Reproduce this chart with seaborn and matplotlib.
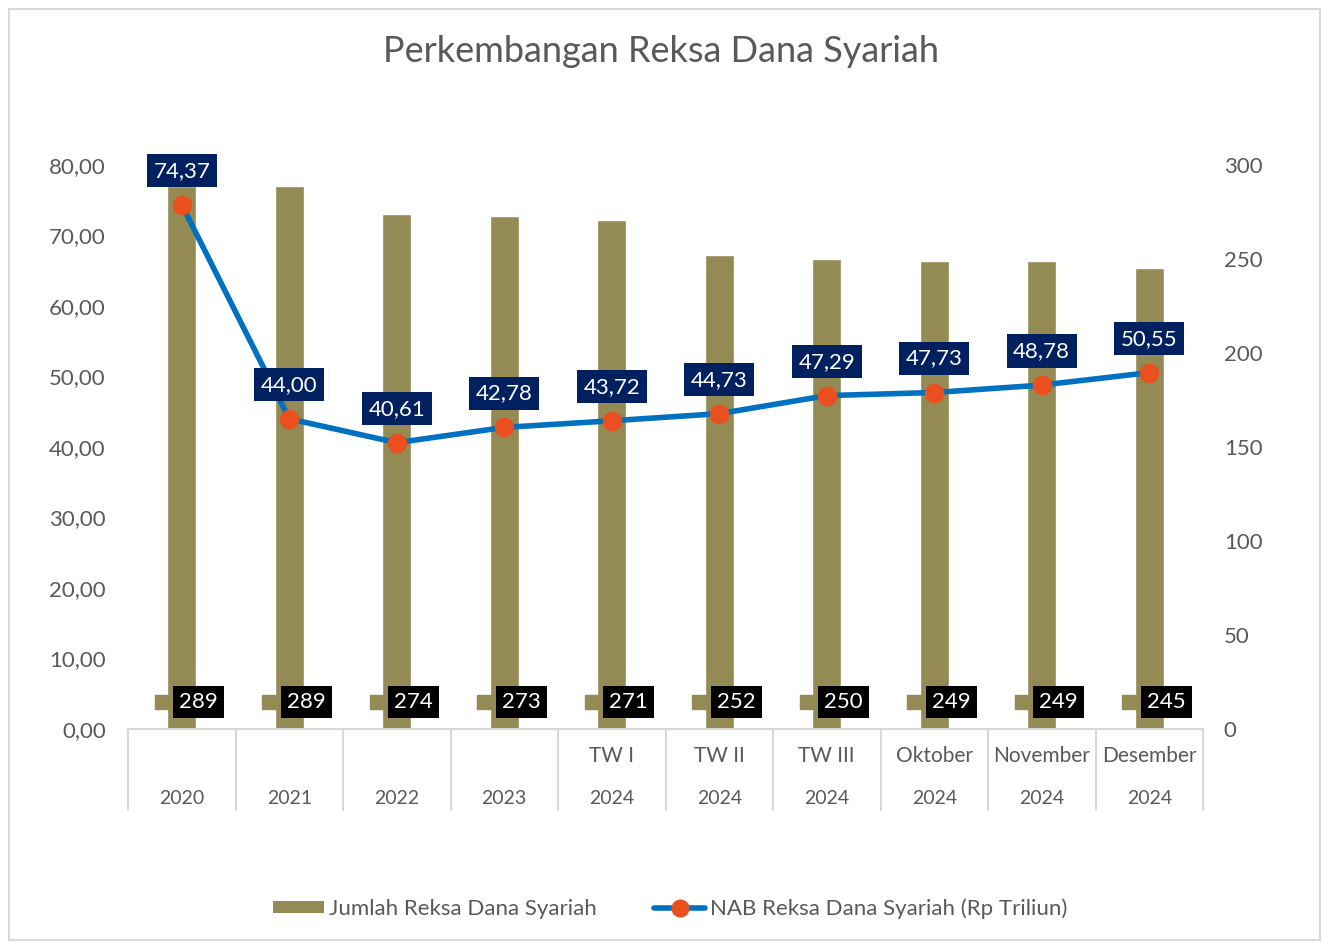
import numpy as np
import pandas as pd
import matplotlib
matplotlib.use("Agg")
import matplotlib.pyplot as plt
import matplotlib.transforms as mtransforms
from matplotlib.patches import Patch, Rectangle
from matplotlib.lines import Line2D
import seaborn as sns

periode = ["", "", "", "", "TW I", "TW II", "TW III", "Oktober", "November", "Desember"]
tahun = ["2020", "2021", "2022", "2023", "2024", "2024", "2024", "2024", "2024", "2024"]
jumlah = [289, 289, 274, 273, 271, 252, 250, 249, 249, 245]
nab = [74.37, 44.00, 40.61, 42.78, 43.72, 44.73, 47.29, 47.73, 48.78, 50.55]

olive = "#948A54"
navy = "#002060"
biru = "#0070C0"
oranye = "#E94F1F"
abu = "#595959"
garis = "#D9D9D9"

df = pd.DataFrame({"kat": [f"{p}|{t}" for p, t in zip(periode, tahun)],
                   "pos": np.arange(len(tahun)),
                   "jumlah": jumlah, "nab": nab})

sns.set_style("white")
plt.rcParams["font.family"] = ["Lato", "DejaVu Sans"]

fig = plt.figure(figsize=(13.22, 9.43), dpi=100)
ax = fig.add_axes([128 / 1322, 1 - 729 / 943, (1203 - 128) / 1322, (729 - 165) / 943])

# bars on the right-hand scale
sns.barplot(data=df, x="kat", y="jumlah", color=olive, width=0.27,
            saturation=1, ax=ax, zorder=2)
ax.set_ylim(0, 300)
ax.set_xlim(-0.5, len(tahun) - 0.5)
ax.set_xticks([])
ax.set_xlabel("")
ax.set_ylabel("")
for s in ax.spines.values():
    s.set_visible(False)

# two-level category axis
trans = mtransforms.blended_transform_factory(ax.transData, ax.transAxes)
ax.plot([-0.5, len(tahun) - 0.5], [0, 0], color=garis, lw=1.5,
        transform=trans, clip_on=False, zorder=3)
for i in range(len(tahun) + 1):
    ax.plot([i - 0.5, i - 0.5], [0, -81 / 564], color=garis, lw=1.5,
            transform=trans, clip_on=False)
for i, (p, t) in enumerate(zip(periode, tahun)):
    ax.text(i, -27 / 564, p, transform=trans, ha="center", va="center",
            fontsize=15, color=abu)
    ax.text(i, -69 / 564, t, transform=trans, ha="center", va="center",
            fontsize=14, color=abu)

# bar labels with small legend key
for i, v in enumerate(jumlah):
    kt = mtransforms.offset_copy(ax.transData, fig, x=-20, y=27, units="dots")
    ax.plot([i], [0], marker="s", ms=10, color=olive, mec=olive,
            transform=kt, zorder=4, clip_on=False)
    ax.annotate(str(v), xy=(i, 0), xytext=(17, 27), textcoords="offset pixels",
                ha="center", va="center", fontsize=16, color="white", zorder=5,
                bbox=dict(boxstyle="square,pad=0.28", fc="black", ec="none"))

# line on the left-hand scale
ax2 = ax.twinx()
sns.lineplot(data=df, x="pos", y="nab", color=biru, lw=4, ax=ax2, zorder=3)
sns.scatterplot(data=df, x="pos", y="nab", color=oranye, s=170,
                edgecolor=oranye, ax=ax2, zorder=4)
ax2.set_ylim(0, 80)
ax2.set_xlim(-0.5, len(tahun) - 0.5)
ax2.yaxis.tick_left()
ax2.set_yticks(np.arange(0, 81, 10))
ax2.set_yticklabels([f"{v:.2f}".replace(".", ",") for v in range(0, 81, 10)],
                    fontsize=16, color=abu)
ax2.tick_params(axis="y", length=0, pad=16)
ax2.set_xlabel("")
ax2.set_ylabel("")
for s in ax2.spines.values():
    s.set_visible(False)

# twinx resets the first axes to the left, so move it back
ax.yaxis.tick_right()
ax.set_yticks(np.arange(0, 301, 50))
ax.set_yticklabels([str(v) for v in range(0, 301, 50)], fontsize=16, color=abu)
ax.tick_params(axis="y", length=0, pad=15)

for i, v in enumerate(nab):
    ax2.annotate(f"{v:.2f}".replace(".", ","), xy=(i, v), xytext=(0, 34),
                 textcoords="offset pixels", ha="center", va="center",
                 fontsize=16, color="white", zorder=6,
                 bbox=dict(boxstyle="square,pad=0.3", fc=navy, ec="none"))

fig.text(0.5, 1 - 52 / 943, "Perkembangan Reksa Dana Syariah", ha="center",
         va="center", fontsize=26, color=abu)

handles = [Patch(fc=olive, ec="none"),
           Line2D([], [], color=biru, lw=4, marker="o", ms=12,
                  mfc=oranye, mec=oranye)]
labels = ["Jumlah Reksa Dana Syariah", "NAB Reksa Dana Syariah (Rp Triliun)"]
leg = fig.legend(handles, labels, loc="center", bbox_to_anchor=(0.507, 1 - 909 / 943),
                 ncol=2, frameon=False, fontsize=16, handlelength=2.3,
                 handleheight=0.45, handletextpad=0.2, columnspacing=2.6)
for t in leg.get_texts():
    t.set_color(abu)

fig.patches.append(Rectangle((9 / 1322, 3 / 943), 1311 / 1322, 931 / 943,
                             transform=fig.transFigure, fill=False,
                             ec=garis, lw=1.5))

fig.savefig("out.png", dpi=100)
